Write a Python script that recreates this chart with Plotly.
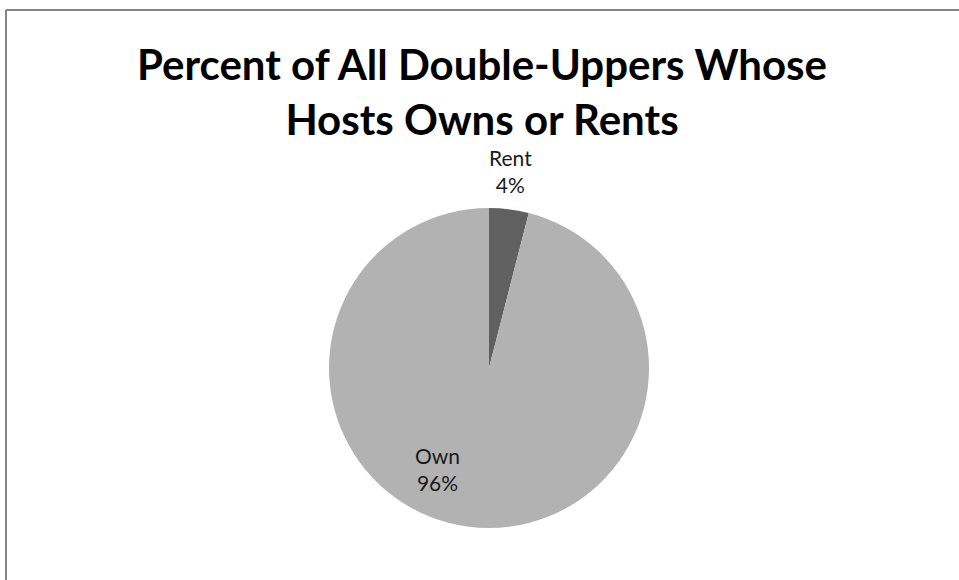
import plotly.graph_objects as go

# Share of double-upper homes by tenure of host
categories = ["Rent", "Own"]
percents = [4, 96]
slice_colors = ["#606060", "#b2b2b2"]

W, H = 959, 580
cx, cy, r = 489, 368, 160  # pie centre and radius in pixels

fig = go.Figure(go.Pie(
    labels=categories,
    values=percents,
    sort=False,
    direction="clockwise",
    rotation=0,
    marker=dict(colors=slice_colors, line=dict(width=0)),
    textinfo="none",
    hoverinfo="label+percent",
    showlegend=False,
    domain=dict(x=[(cx - r) / W, (cx + r) / W],
                y=[(H - cy - r) / H, (H - cy + r) / H]),
))

font_family = "Lato, Open Sans, sans-serif"
label_font = dict(family=font_family, size=21, color="#1a1a1a")
label_pos = {"Rent": (510, 171), "Own": (437, 469)}
annotations = []
for name, val in zip(categories, percents):
    x, y = label_pos[name]
    annotations.append(dict(
        text=f"{name}<br>{val}%", x=x / W, y=1 - y / H, xref="paper", yref="paper",
        showarrow=False, font=label_font, align="center", xanchor="center", yanchor="middle",
    ))

fig.update_layout(
    width=W, height=H,
    margin=dict(l=0, r=0, t=0, b=0),
    paper_bgcolor="white",
    title=dict(
        text="<b>Percent of All Double-Uppers Whose<br>Hosts Owns or Rents</b>",
        x=482 / W, xanchor="center", y=1 - 80 / H, yanchor="middle",
        font=dict(family=font_family, size=42, color="#000000"),
    ),
    annotations=annotations,
    shapes=[
        dict(type="line", xref="paper", yref="paper", x0=6 / W, x1=1, y0=1 - 10 / H, y1=1 - 10 / H,
             line=dict(color="#848484", width=2)),
        dict(type="line", xref="paper", yref="paper", x0=6 / W, x1=6 / W, y0=0, y1=1 - 10 / H,
             line=dict(color="#848484", width=2)),
    ],
)

fig.write_html("out.html")
